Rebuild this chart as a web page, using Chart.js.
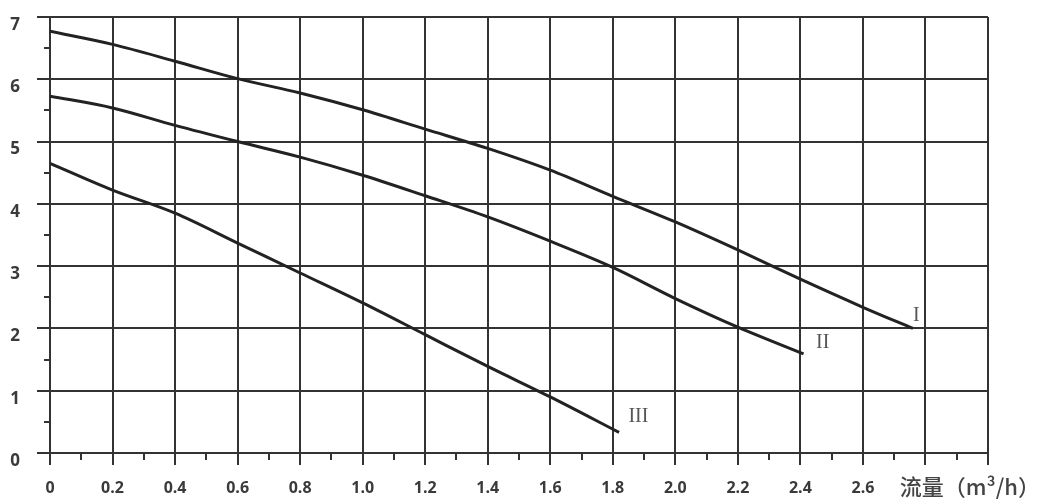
<!DOCTYPE html>
<html>
<head>
<meta charset="utf-8">
<script src="https://cdn.jsdelivr.net/npm/chart.js@4"></script>
<style>
  html, body { margin: 0; padding: 0; background: #fff; }
  #wrap { width: 1042px; height: 503px; position: relative; }
</style>
</head>
<body>
<div id="wrap"><canvas id="pumpChart"></canvas></div>
<script>
// pump curves, flow (m3/h) vs head
const flowI = [0, 0.2, 0.4, 0.6, 0.8, 1.0, 1.2, 1.4, 1.6, 1.8, 2.0, 2.2, 2.4, 2.6, 2.76];
const headI = [6.77, 6.56, 6.29, 6.01, 5.78, 5.51, 5.2, 4.89, 4.54, 4.12, 3.71, 3.26, 2.79, 2.34, 2.0];
const flowII = [0, 0.2, 0.4, 0.6, 0.8, 1.0, 1.2, 1.4, 1.6, 1.8, 2.0, 2.2, 2.41];
const headII = [5.73, 5.54, 5.26, 5.0, 4.75, 4.46, 4.13, 3.79, 3.4, 2.98, 2.48, 2.02, 1.59];
const flowIII = [0, 0.2, 0.4, 0.6, 0.8, 1.0, 1.2, 1.4, 1.6, 1.82];
const headIII = [4.65, 4.22, 3.85, 3.37, 2.89, 2.41, 1.9, 1.39, 0.9, 0.33];

const curveNames = ['I', 'II', 'III'];
const nameFlow = [2.76, 2.45, 1.85];
const nameHead = [2.2, 1.77, 0.58];

const xMinorTicks = [0.1, 0.3, 0.5, 0.7, 0.9, 1.1, 1.3, 1.5, 1.7, 1.9, 2.1, 2.3, 2.5, 2.7, 2.9];
const yMinorTicks = [0.5, 1.5, 2.5, 3.5, 4.5, 5.5, 6.5];
const xAxisTitle = '流量（m³/h）';

const toPoints = (xs, ys) => xs.map((x, i) => ({ x: x, y: ys[i] }));

const lineStyle = {
    borderColor: '#222',
    borderWidth: 3,
    pointRadius: 0,
    fill: false,
    cubicInterpolationMode: 'monotone'
};

// minor ticks, curve names and the flow title
const extras = {
    id: 'extras',
    afterDraw(chart) {
        const { ctx, chartArea, scales } = chart;
        const x = scales.x, y = scales.y;
        ctx.save();
        ctx.strokeStyle = '#333';
        ctx.lineWidth = 2;
        xMinorTicks.forEach(v => {
            const px = Math.round(x.getPixelForValue(v));
            ctx.beginPath();
            ctx.moveTo(px, chartArea.bottom);
            ctx.lineTo(px, chartArea.bottom + 7);
            ctx.stroke();
        });
        yMinorTicks.forEach(v => {
            const py = Math.round(y.getPixelForValue(v));
            ctx.beginPath();
            ctx.moveTo(chartArea.left - 6, py);
            ctx.lineTo(chartArea.left, py);
            ctx.stroke();
        });

        ctx.fillStyle = '#555';
        ctx.font = '20px "Liberation Serif"';
        ctx.textAlign = 'left';
        ctx.textBaseline = 'middle';
        curveNames.forEach((n, i) => {
            ctx.fillText(n, x.getPixelForValue(nameFlow[i]), y.getPixelForValue(nameHead[i]));
        });

        ctx.fillStyle = '#444';
        ctx.font = '500 22px "Noto Sans CJK SC"';
        ctx.textAlign = 'right';
        ctx.fillText(xAxisTitle, 1040, 487);
        ctx.restore();
    }
};

const ctx = document.getElementById('pumpChart').getContext('2d');
new Chart(ctx, {
    type: 'line',
    data: {
        datasets: [
            { label: 'I', data: toPoints(flowI, headI), ...lineStyle },
            { label: 'II', data: toPoints(flowII, headII), ...lineStyle },
            { label: 'III', data: toPoints(flowIII, headIII), ...lineStyle }
        ]
    },
    options: {
        responsive: true,
        maintainAspectRatio: false,
        animation: false,
        layout: { padding: { top: 17, right: 54, left: 0, bottom: 0 } },
        plugins: {
            legend: { display: false },
            tooltip: { enabled: false }
        },
        scales: {
            x: {
                type: 'linear',
                min: 0,
                max: 3,
                afterFit(scale) {
                    scale.height = 50;
                    scale.paddingLeft = 0;
                    scale.paddingRight = 0;
                },
                ticks: {
                    stepSize: 0.2,
                    autoSkip: false,
                    maxRotation: 0,
                    padding: 14,
                    color: '#3a3a3a',
                    font: { family: 'Open Sans', size: 16, weight: 'bold' },
                    callback: v => (v > 2.7 ? '' : (v === 0 ? '0' : v.toFixed(1)))
                },
                grid: { color: '#333', lineWidth: 2, tickLength: 12 },
                border: { color: '#333', width: 2 }
            },
            y: {
                min: 0,
                max: 7,
                afterFit(scale) {
                    scale.width = 50;
                    scale.paddingTop = 0;
                    scale.paddingBottom = 0;
                },
                ticks: {
                    stepSize: 1,
                    padding: 17,
                    labelOffset: 8,
                    color: '#3a3a3a',
                    font: { family: 'Open Sans', size: 17, weight: 'bold' }
                },
                grid: { color: '#333', lineWidth: 2, tickLength: 13 },
                border: { color: '#333', width: 2 }
            }
        }
    },
    plugins: [extras]
});
</script>
</body>
</html>
